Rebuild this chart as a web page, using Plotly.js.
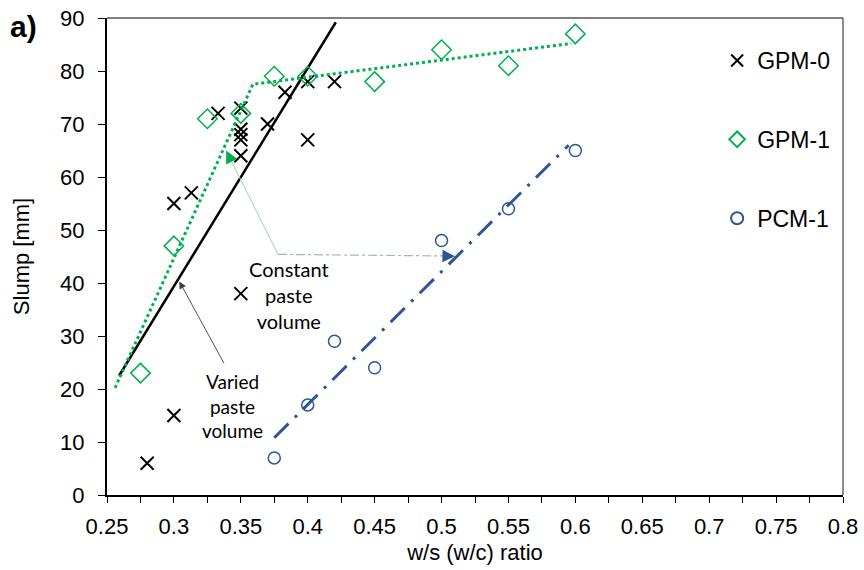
<!DOCTYPE html>
<html>
<head>
<meta charset="utf-8">
<script src="https://cdn.plot.ly/plotly-3.0.1.min.js"></script>
<style>html,body{margin:0;padding:0;background:#fff}#chart{width:864px;height:570px}</style>
</head>
<body>
<div id="chart"></div>
<script>
// Measured data
const gpm0X = [0.28, 0.30, 0.30, 0.313, 0.333, 0.35, 0.35, 0.35, 0.35, 0.35, 0.35, 0.37, 0.383, 0.40, 0.40, 0.42];
const gpm0Y = [6, 15, 55, 57, 72, 73, 69, 68, 67, 64, 38, 70, 76, 78, 67, 78];
const gpm1X = [0.275, 0.30, 0.325, 0.35, 0.375, 0.40, 0.45, 0.50, 0.55, 0.60];
const gpm1Y = [23, 47, 71, 72, 79, 79, 78, 84, 81, 87];
const pcm1X = [0.375, 0.40, 0.42, 0.45, 0.50, 0.55, 0.60];
const pcm1Y = [7, 17, 29, 24, 48, 54, 65];
// Trend lines
const gpm0TrendX = [0.259, 0.421];
const gpm0TrendY = [22.5, 89.2];
const gpm1TrendX = [0.256, 0.359, 0.597];
const gpm1TrendY = [20.2, 77.5, 85.2];
const pcm1TrendX = [0.375, 0.595];
const pcm1TrendY = [10.8, 66];
// Labels
const seriesNames = ['GPM-0', 'GPM-1', 'PCM-1'];
const xTitle = 'w/s (w/c) ratio';
const yTitle = 'Slump [mm]';

const GREEN = '#00b050', BLUE = '#2f5597';
const baseFont = 'Liberation Sans, Arial, sans-serif';
const noteFont = 'Lato, Open Sans, sans-serif';

const traces = [
  {x: gpm0TrendX, y: gpm0TrendY, mode: 'lines', line: {color: '#000', width: 2.5}, showlegend: false, hoverinfo: 'skip'},
  {x: pcm1TrendX, y: pcm1TrendY, mode: 'lines', line: {color: BLUE, width: 3, dash: '20px,9px,3px,9px'}, showlegend: false, hoverinfo: 'skip'},
  {x: gpm0X, y: gpm0Y, mode: 'markers', name: seriesNames[0], legendgroup: 'a',
   marker: {symbol: 'x-thin-open', size: 13, color: '#000', line: {color: '#000', width: 2}}},
  {x: gpm1X, y: gpm1Y, mode: 'markers', name: seriesNames[1], legendgroup: 'b',
   marker: {symbol: 'diamond-open', size: 15, color: GREEN, line: {color: GREEN, width: 1.5}}},
  {x: pcm1X, y: pcm1Y, mode: 'markers', name: seriesNames[2], legendgroup: 'c',
   marker: {symbol: 'circle-open', size: 12, color: BLUE, line: {color: BLUE, width: 1.5}}},
  {x: gpm1TrendX, y: gpm1TrendY, mode: 'lines', line: {color: GREEN, width: 3, dash: 'dot'}, showlegend: false, hoverinfo: 'skip'}
];

const layout = {
  width: 864, height: 570,
  margin: {l: 107, r: 21, t: 18, b: 75},
  paper_bgcolor: '#fff', plot_bgcolor: '#fff',
  font: {family: baseFont, color: '#000', size: 22},
  showlegend: true,
  legend: {x: 0.829, xanchor: 'left', y: 0.956, yanchor: 'top', bgcolor: 'rgba(0,0,0,0)',
           font: {family: baseFont, size: 23, color: '#000'}, tracegroupgap: 46, itemwidth: 30, itemsizing: 'constant'},
  xaxis: {
    range: [0.25, 0.8], tick0: 0.25, dtick: 0.05, showgrid: false, zeroline: false,
    showline: true, linecolor: '#000', linewidth: 2,
    ticks: 'outside', ticklen: 6, tickcolor: '#000', tickwidth: 1, ticklabelstandoff: 5,
    minor: {dtick: 0.025, ticks: 'outside', ticklen: 6, tickcolor: '#000', tickwidth: 1, showgrid: false},
    tickfont: {size: 22},
    title: {text: xTitle, font: {size: 22}, standoff: 6}
  },
  yaxis: {
    range: [0, 90], dtick: 10, showgrid: false, zeroline: false,
    showline: true, linecolor: '#000', linewidth: 2,
    ticks: 'outside', ticklen: 7, tickcolor: '#000', tickwidth: 1, ticklabelstandoff: 9,
    tickfont: {size: 22},
    title: {text: yTitle, font: {size: 22}, standoff: 24}
  },
  shapes: [
    {type: 'line', xref: 'paper', yref: 'paper', x0: 0, x1: 1, y0: 1, y1: 1, line: {color: '#000', width: 1.2}},
    {type: 'line', xref: 'paper', yref: 'paper', x0: 1, x1: 1, y0: 0, y1: 1, line: {color: '#444', width: 1.2}},
    // constant paste volume connector
    {type: 'line', xref: 'x', yref: 'y', x0: 0.3778, y0: 45.4, x1: 0.342, y1: 63.5, line: {color: '#8fdcaa', width: 1}},
    {type: 'line', xref: 'x', yref: 'y', x0: 0.3778, y0: 45.4, x1: 0.503, y1: 45.1, line: {color: '#9fb3d4', width: 1.2, dash: 'dashdot'}}
  ],
  annotations: [
    {text: '<b>a)</b>', xref: 'paper', yref: 'paper', x: -0.134, y: 1.0, xanchor: 'left', yanchor: 'middle', showarrow: false,
     font: {family: baseFont, size: 30, color: '#000'}, yshift: -8},
    {text: 'Constant<br>paste<br>volume', xref: 'x', yref: 'y', x: 0.3862, y: 37.7, showarrow: false,
     font: {family: noteFont, size: 20, color: '#000'}, align: 'center'},
    {text: 'Varied<br>paste<br>volume', xref: 'x', yref: 'y', x: 0.344, y: 16.7, showarrow: false,
     font: {family: noteFont, size: 19, color: '#000'}, align: 'center'},
    {text: '', xref: 'x', yref: 'y', axref: 'x', ayref: 'y', x: 0.304, y: 40.3, ax: 0.338, ay: 24.6,
     showarrow: true, arrowhead: 2, arrowsize: 1.6, arrowwidth: 0.9, arrowcolor: '#404040'},
    {text: '', xref: 'x', yref: 'y', axref: 'x', ayref: 'y', x: 0.339, y: 65, ax: 0.343, ay: 63.0,
     showarrow: true, arrowhead: 2, arrowsize: 2.5, arrowwidth: 1, arrowcolor: GREEN},
    {text: '', xref: 'x', yref: 'y', axref: 'x', ayref: 'y', x: 0.51, y: 45.05, ax: 0.500, ay: 45.1,
     showarrow: true, arrowhead: 2, arrowsize: 2.5, arrowwidth: 1, arrowcolor: BLUE}
  ]
};

Plotly.newPlot('chart', traces, layout, {staticPlot: true, displayModeBar: false});
</script>
</body>
</html>
